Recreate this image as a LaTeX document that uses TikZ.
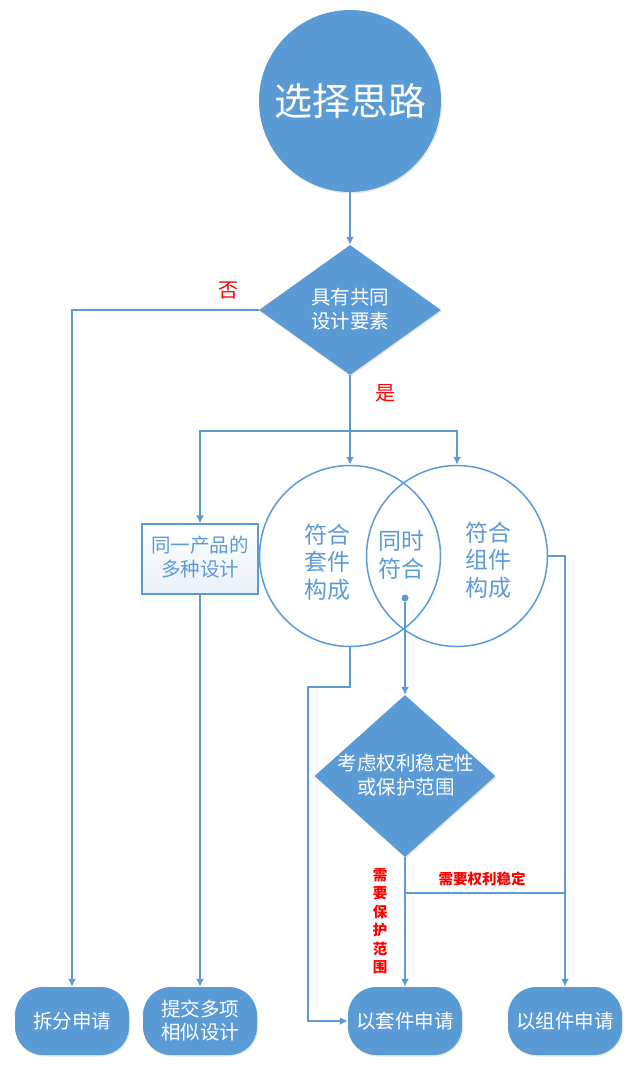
\documentclass[tikz,border=0pt]{standalone}
\usepackage{fontspec}
\setmainfont{Noto Sans CJK SC}
\usetikzlibrary{shapes.geometric,arrows.meta,shadows}
\definecolor{mblue}{HTML}{5B9BD5}
\definecolor{mred}{HTML}{FF0000}
\begin{document}
\begin{tikzpicture}[x=1pt,y=-1pt,
  fillnode/.style={fill=mblue,draw=none,text=white,
    drop shadow={opacity=0.18,shadow xshift=1pt,shadow yshift=-1.5pt}},
  flow/.style={draw=mblue,line width=1.5pt,-{Latex[length=8pt,width=8pt]}},
  plain/.style={draw=mblue,line width=1.5pt},
  txt/.style={font=\fontsize{19.5pt}{23.5pt}\selectfont,align=center,inner sep=0pt},
  venntxt/.style={font=\fontsize{23pt}{27.5pt}\selectfont,align=center,inner sep=0pt,text=mblue},
  term/.style={fillnode,rounded corners=28pt,minimum width=114pt,minimum height=68pt,
    inner sep=0pt,align=center,font=\fontsize{19.5pt}{23pt}\selectfont},
  dia/.style={fillnode,diamond,inner sep=0pt},
  venn/.style={circle,draw=mblue,line width=1.5pt,minimum size=181pt,inner sep=0pt},
  redlab/.style={text=mred,inner sep=0pt}
]
\useasboundingbox (0,0) rectangle (640,1073);

% top circle
\node[fillnode,circle,minimum size=182pt,inner sep=0pt,
  font=\fontsize{38pt}{40pt}\selectfont] (c0) at (350,101) {选择思路};

% first decision
\node[dia,minimum width=182pt,minimum height=130pt] (d1) at (350,310) {};
\node[txt,text=white] (d1t) at (350,309) {具有共同\\设计要素};

% rectangle
\node[draw=mblue,line width=1.2pt,top color=white,bottom color=mblue!14,
  minimum width=116pt,minimum height=70pt,inner sep=0pt] (r1) at (200,559) {};
\node[txt,text=mblue] (r1t) at (200,557) {同一产品的\\多种设计};

% venn circles
\node[venn] (c1) at (350,556) {};
\node[venn] (c2) at (457,556) {};
\node[venntxt] (t1) at (327,562) {符合\\套件\\构成};
\node[venntxt] (t2) at (401,555) {同时\\符合};
\node[venntxt] (t3) at (488,560) {符合\\组件\\构成};
\node[circle,fill=mblue,minimum size=7pt,inner sep=0pt] (dot) at (405,598) {};

% second decision
\node[dia,minimum width=181pt,minimum height=162pt] (d2) at (405,776) {};
\node[txt,text=white] (d2t) at (406,775) {考虑权利稳定性\\或保护范围};

% terminals
\node[term] (b1) at (72,1021) {拆分申请};
\node[term] (b2) at (200,1021) {提交多项\\相似设计};
\node[term] (b3) at (405,1021) {以套件申请};
\node[term] (b4) at (565,1021) {以组件申请};

% junction coordinates
\coordinate (j1) at (350,431);
\coordinate (k1) at (308,687);
\coordinate (j2) at (405,893);

% connectors
\draw[flow] (c0.south) -- (d1.north);
\draw[flow] (d1.west) -| (b1.north);
\draw[plain] (d1.south) -- (j1);
\draw[flow] (j1) -- (c1.north);
\draw[flow] (j1) -| (c2.north);
\draw[flow] (j1) -| (r1.north);
\draw[flow] (r1.south) -- (b2.north);
\draw[flow] (c1.south) |- (k1) |- (b3.west);
\draw[flow] (c2.east) -| (b4.north);
\draw[flow] (dot) -- (d2.north);
\draw[flow] (d2.south) -- (b3.north);
\draw[plain] (j2) -- (j2 -| b4.north);

% labels
\node[redlab,font=\fontsize{20pt}{22pt}\selectfont] (lno) at (228,290) {否};
\node[redlab,font=\fontsize{20pt}{22pt}\selectfont] (lyes) at (385,393) {是};
\node[redlab,font=\fontsize{14.5pt}{16pt}\selectfont\bfseries] (lstab) at (482,879) {需要权利稳定};
\node[redlab,align=center,font=\fontsize{14.5pt}{18.5pt}\selectfont\bfseries] (lscope) at (380,921) {需\\要\\保\\护\\范\\围};
\end{tikzpicture}
\end{document}
